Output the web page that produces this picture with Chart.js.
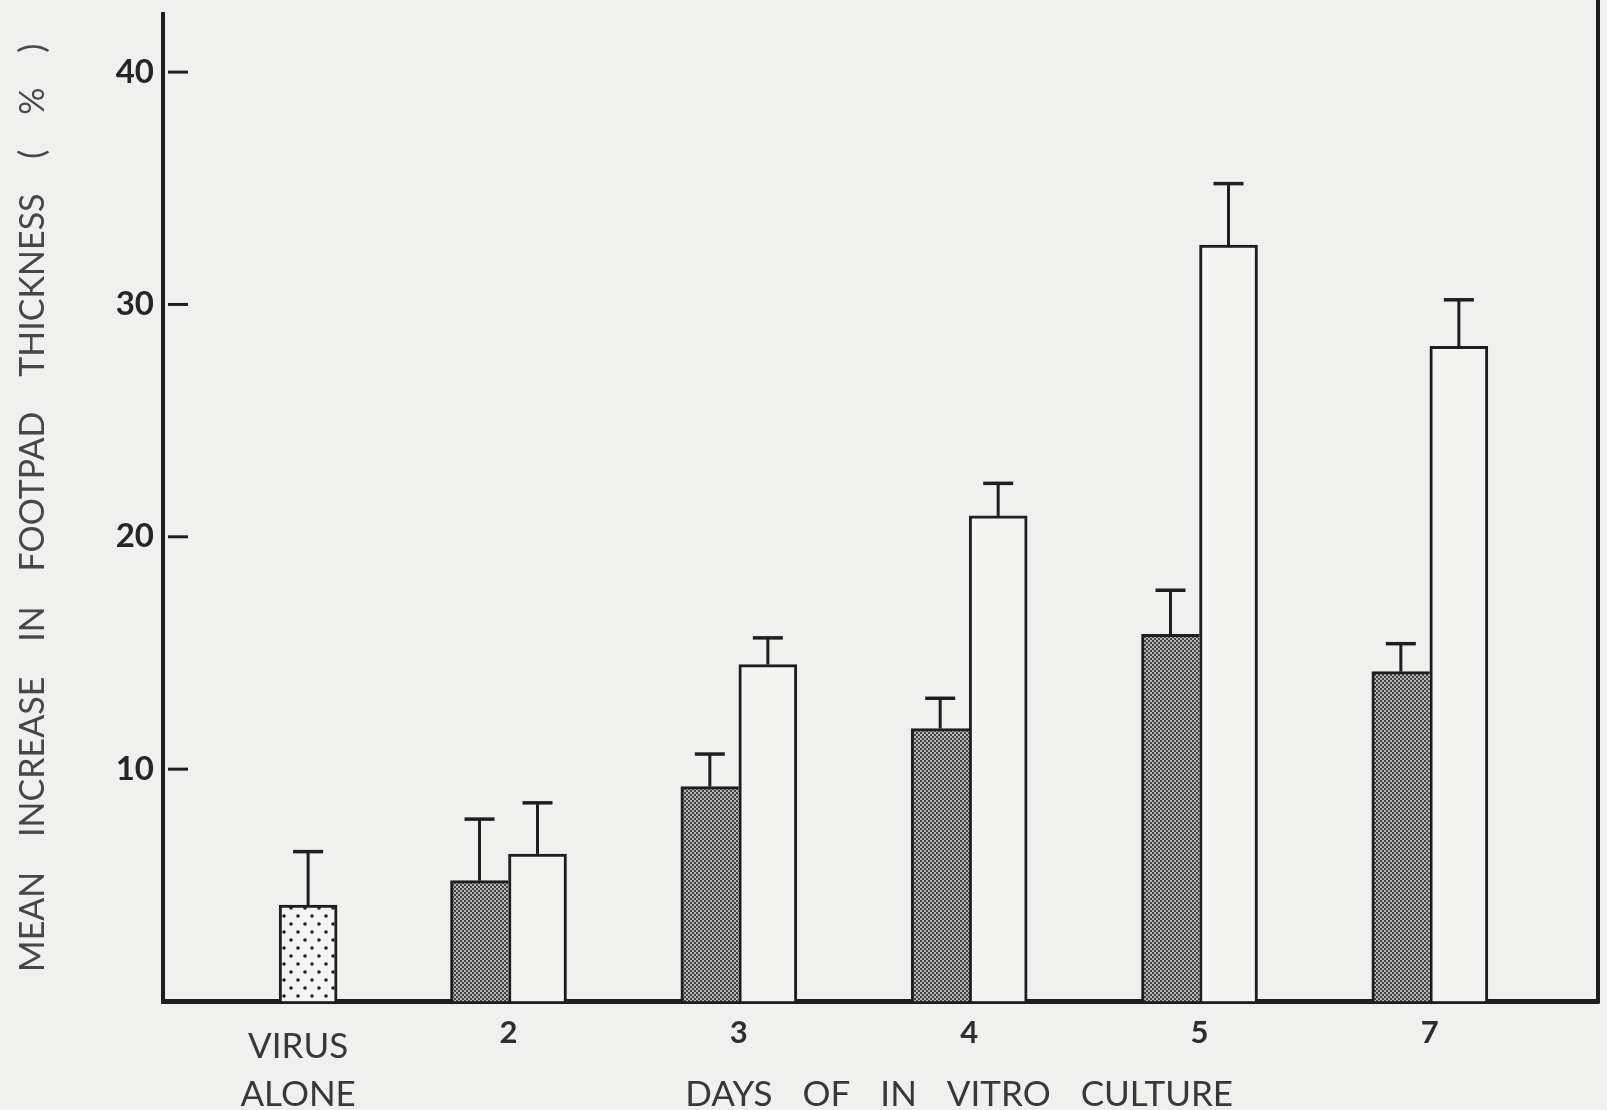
<!DOCTYPE html>
<html>
<head>
<meta charset="utf-8">
<script src="https://cdn.jsdelivr.net/npm/chart.js@4.4.1/dist/chart.umd.min.js"></script>
<style>
  html, body { margin: 0; padding: 0; background: #f0f0ef; }
  #wrap { width: 1607px; height: 1110px; }
</style>
</head>
<body>
<div id="wrap"><canvas id="c" width="1607" height="1110"></canvas></div>
<script>
// Footpad swelling after transfer of cells cultured in vitro for n days
const days = ['2', '3', '4', '5', '7'];
const controlLabel = ['VIRUS', 'ALONE'];
const controlValue = [4.15];
const controlSE = [2.3];
const culturedA = [5.2, 9.25, 11.75, 15.8, 14.2];
const culturedASE = [2.65, 1.4, 1.3, 1.9, 1.2];
const culturedB = [6.35, 14.5, 20.9, 32.55, 28.2];
const culturedBSE = [2.2, 1.15, 1.4, 2.65, 2.0];
const yTickValues = [10, 20, 30, 40];
const yTitle = 'MEAN    INCREASE    IN    FOOTPAD    THICKNESS    (    %    )';
const xTitleWords = ['DAYS', 'OF', 'IN', 'VITRO', 'CULTURE'];

const INK = '#1e1e1e';
const PAPER = '#f0f0ef';

// fine half-tone screen for the shaded bars
function screenPattern() {
  const c = document.createElement('canvas');
  c.width = 4; c.height = 4;
  const g = c.getContext('2d');
  g.fillStyle = '#b8b8b8'; g.fillRect(0, 0, 4, 4);
  g.fillStyle = '#424242';
  g.fillRect(0, 0, 2, 2); g.fillRect(2, 2, 2, 2);
  return g.createPattern(c, 'repeat');
}
// sparse dot stipple for the control bar
function dotPattern() {
  const c = document.createElement('canvas');
  c.width = 14; c.height = 16;
  const g = c.getContext('2d');
  g.fillStyle = '#f4f4f3'; g.fillRect(0, 0, 14, 16);
  g.fillStyle = '#222';
  [[4, 4], [11, 12]].forEach(([x, y]) => { g.beginPath(); g.arc(x, y, 1.8, 0, Math.PI * 2); g.fill(); });
  return g.createPattern(c, 'repeat');
}

const paperBg = {
  id: 'paperBg',
  beforeDraw(chart) {
    const { ctx, width, height } = chart;
    ctx.save(); ctx.fillStyle = PAPER; ctx.fillRect(0, 0, width, height); ctx.restore();
  }
};

const frameAndText = {
  id: 'frameAndText',
  afterDraw(chart) {
    const { ctx, chartArea: a, scales } = chart;
    ctx.save();
    ctx.strokeStyle = INK;
    // right-hand frame line
    ctx.lineWidth = 4;
    ctx.beginPath(); ctx.moveTo(a.right, 0); ctx.lineTo(a.right, a.bottom + 2); ctx.stroke();
    // inward tick marks on the value axis
    ctx.lineWidth = 3;
    yTickValues.forEach(v => {
      const py = scales.y.getPixelForValue(v);
      ctx.beginPath(); ctx.moveTo(a.left + 5, py); ctx.lineTo(a.left + 25, py); ctx.stroke();
    });
    // control label under its bar
    ctx.fillStyle = '#383838';
    ctx.font = '35px Lato';
    ctx.textAlign = 'center'; ctx.textBaseline = 'middle';
    const cx = scales.xc.getPixelForValue(0);
    controlLabel.forEach((t, i) => ctx.fillText(t, cx - 10, a.bottom + 45 + i * 48));
    // axis title under the culture-day groups
    const gap = 30;
    const widths = xTitleWords.map(w => ctx.measureText(w).width);
    const total = widths.reduce((s, w) => s + w, 0) + gap * (xTitleWords.length - 1);
    const mid = (scales.x.getPixelForValue(1) + scales.x.getPixelForValue(days.length)) / 2 - 10;
    let x = mid - total / 2;
    ctx.textAlign = 'left';
    xTitleWords.forEach((w, i) => { ctx.fillText(w, x, a.bottom + 93); x += widths[i] + gap; });
    ctx.restore();
  }
};

const errorBars = {
  id: 'errorBars',
  afterDatasetsDraw(chart) {
    const { ctx, scales } = chart;
    ctx.save();
    ctx.strokeStyle = INK;
    chart.data.datasets.forEach((ds, di) => {
      const meta = chart.getDatasetMeta(di);
      meta.data.forEach((bar, i) => {
        const top = scales.y.getPixelForValue(ds.data[i].y + ds.errors[i]);
        ctx.lineWidth = 3;
        ctx.beginPath(); ctx.moveTo(bar.x, bar.y); ctx.lineTo(bar.x, top); ctx.stroke();
        ctx.lineWidth = 3.5;
        ctx.beginPath(); ctx.moveTo(bar.x - 15, top); ctx.lineTo(bar.x + 15, top); ctx.stroke();
      });
    });
    ctx.restore();
  }
};

new Chart(document.getElementById('c'), {
  type: 'bar',
  data: {
    datasets: [
      {
        label: 'Virus alone',
        xAxisID: 'xc',
        grouped: false,
        data: controlValue.map((v, i) => ({ x: i, y: v })),
        errors: controlSE,
        backgroundColor: dotPattern(),
        borderColor: INK,
        borderWidth: 3
      },
      {
        label: 'Cultured cells A',
        xAxisID: 'x',
        data: culturedA.map((v, i) => ({ x: i + 1, y: v })),
        errors: culturedASE,
        backgroundColor: screenPattern(),
        borderColor: INK,
        borderWidth: { left: 3, top: 3, right: 0, bottom: 0 }
      },
      {
        label: 'Cultured cells B',
        xAxisID: 'x',
        data: culturedB.map((v, i) => ({ x: i + 1, y: v })),
        errors: culturedBSE,
        backgroundColor: '#f4f4f3',
        borderColor: INK,
        borderWidth: 3
      }
    ]
  },
  options: {
    responsive: false,
    animation: false,
    devicePixelRatio: 1,
    barThickness: 58,
    layout: { padding: { left: 0, top: 14, right: 9, bottom: 0 } },
    plugins: { legend: { display: false }, tooltip: { enabled: false } },
    scales: {
      x: {
        type: 'linear',
        offset: false,
        min: -0.5,
        max: 5.73,
        grid: { display: false, drawTicks: false },
        border: { display: true, width: 5, color: INK },
        afterBuildTicks: s => { s.ticks = days.map((d, i) => ({ value: i + 1 })); },
        ticks: {
          callback: v => days[v - 1] ?? '',
          autoSkip: false, maxRotation: 0,
          font: { family: 'Lato', weight: 'bold', size: 31 },
          color: '#2e2e2e',
          padding: 13
        },
        afterFit: s => { s.height = 108.5; s.paddingLeft = 0; s.paddingRight = 0; }
      },
      xc: {
        type: 'linear',
        offset: false,
        display: false,
        min: -0.63,
        max: 5.6
      },
      y: {
        min: 0,
        max: 42.5,
        grid: { display: false, drawTicks: false },
        border: { display: true, width: 4, color: INK },
        afterBuildTicks: s => { s.ticks = yTickValues.map(v => ({ value: v })); },
        ticks: {
          font: { family: 'Lato', weight: 'bold', size: 33 },
          color: '#262626',
          padding: 9
        },
        title: {
          display: true,
          text: yTitle,
          font: { family: 'Lato', size: 34 },
          color: '#474747',
          padding: { top: 13, bottom: 0 }
        },
        afterFit: s => { s.width = 163; s.paddingTop = 0; s.paddingBottom = 0; }
      }
    }
  },
  plugins: [paperBg, errorBars, frameAndText]
});
</script>
</body>
</html>
